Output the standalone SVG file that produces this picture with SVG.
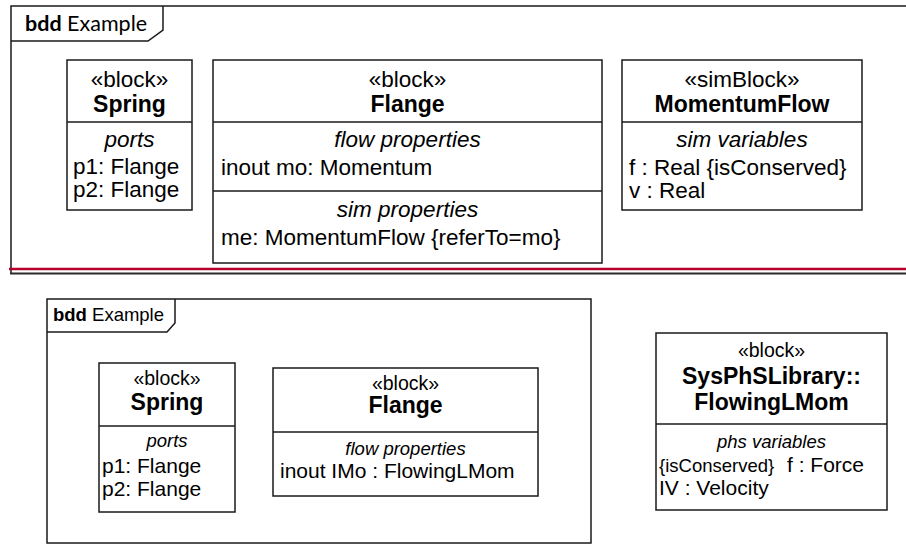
<svg xmlns="http://www.w3.org/2000/svg" width="906" height="544" viewBox="0 0 906 544">
<style>
.bx{fill:#fff;stroke:#1a1a1a;stroke-width:1.5}
.ln{stroke:#1a1a1a;stroke-width:1.5;fill:none}
text{font-family:"Liberation Sans",Arial,sans-serif;fill:#000}
.t{font-size:22.5px}
.c{text-anchor:middle}
.b{font-weight:bold;font-size:23px}
.i{font-style:italic}
.s{font-size:19.5px}
.sm{font-size:18.5px}
.m{font-size:21px}
.cal{font-family:"Lato","Open Sans","Liberation Sans",sans-serif;font-size:21.5px}
</style>
<rect width="906" height="544" fill="#fff"/>

<g id="frame-top">
  <path class="ln" d="M11,273 V6 H906"/>
  <path class="ln" d="M11,41 H148 L163,30 V6"/>
  <text class="cal" x="25" y="31"><tspan font-weight="bold">bdd</tspan> Example</text>
  <line x1="9" y1="269" x2="906" y2="269" stroke="#b5002c" stroke-width="2.5"/>
  <line x1="10" y1="273.5" x2="906" y2="273.5" stroke="#2b2b2b" stroke-width="2"/>
</g>

<g id="spring-top">
  <rect class="bx" x="67" y="60" width="125" height="150"/>
  <line class="ln" x1="67" y1="122" x2="192" y2="122"/>
  <text class="t c" x="129.5" y="87">«block»</text>
  <text class="b c" x="129.5" y="112">Spring</text>
  <text class="t c i" x="129.5" y="147">ports</text>
  <text class="t" x="73" y="174">p1: Flange</text>
  <text class="t" x="73" y="197">p2: Flange</text>
</g>

<g id="flange-top">
  <rect class="bx" x="213" y="60" width="389" height="203"/>
  <line class="ln" x1="213" y1="122" x2="602" y2="122"/>
  <line class="ln" x1="213" y1="191" x2="602" y2="191"/>
  <text class="t c" x="407.5" y="87">«block»</text>
  <text class="b c" x="407.5" y="112">Flange</text>
  <text class="t c i" x="407.5" y="147">flow properties</text>
  <text class="t" x="221" y="175">inout mo: Momentum</text>
  <text class="t c i" x="407.5" y="217">sim properties</text>
  <text class="t" x="221" y="245">me: MomentumFlow {referTo=mo}</text>
</g>

<g id="momentumflow">
  <rect class="bx" x="622" y="60" width="240" height="150"/>
  <line class="ln" x1="622" y1="122" x2="862" y2="122"/>
  <text class="t c" x="742" y="87">«simBlock»</text>
  <text class="b c" x="742" y="112">MomentumFlow</text>
  <text class="t c i" x="742" y="147">sim variables</text>
  <text class="t" x="629" y="175">f : Real {isConserved}</text>
  <text class="t" x="629" y="198">v : Real</text>
</g>

<g id="frame-bottom">
  <rect class="bx" x="47" y="299" width="544" height="244" fill="none"/>
  <path class="ln" d="M47,332 H167 L175,323 V299"/>
  <text x="53" y="321" font-size="18.5px"><tspan font-weight="bold">bdd</tspan> Example</text>
</g>

<g id="spring-bottom">
  <rect class="bx" x="99" y="363" width="136" height="149"/>
  <line class="ln" x1="99" y1="426" x2="235" y2="426"/>
  <text class="s c" x="167" y="385">«block»</text>
  <text class="b c" x="167" y="410">Spring</text>
  <text class="sm c i" x="167" y="447">ports</text>
  <text class="m" x="102" y="473">p1: Flange</text>
  <text class="m" x="102" y="496">p2: Flange</text>
</g>

<g id="flange-bottom">
  <rect class="bx" x="273" y="368" width="265" height="128"/>
  <line class="ln" x1="273" y1="432" x2="538" y2="432"/>
  <text class="s c" x="405.5" y="390">«block»</text>
  <text class="b c" x="405.5" y="413">Flange</text>
  <text class="sm c i" x="405.5" y="455">flow properties</text>
  <text class="m" x="280" y="478">inout IMo : FlowingLMom</text>
</g>

<g id="flowinglmom">
  <rect class="bx" x="656" y="333" width="231" height="177"/>
  <line class="ln" x1="656" y1="424" x2="887" y2="424"/>
  <text class="s c" x="771.5" y="357">«block»</text>
  <text class="b c" x="771.5" y="384">SysPhSLibrary::</text>
  <text class="b c" x="771.5" y="410">FlowingLMom</text>
  <text class="sm c i" x="771.5" y="448">phs variables</text>
  <text class="sm" x="659" y="472">{isConserved}</text>
  <text class="m" x="787" y="472">f : Force</text>
  <text class="m" x="659" y="495">IV : Velocity</text>
</g>

<g id="connectors"/>
</svg>
